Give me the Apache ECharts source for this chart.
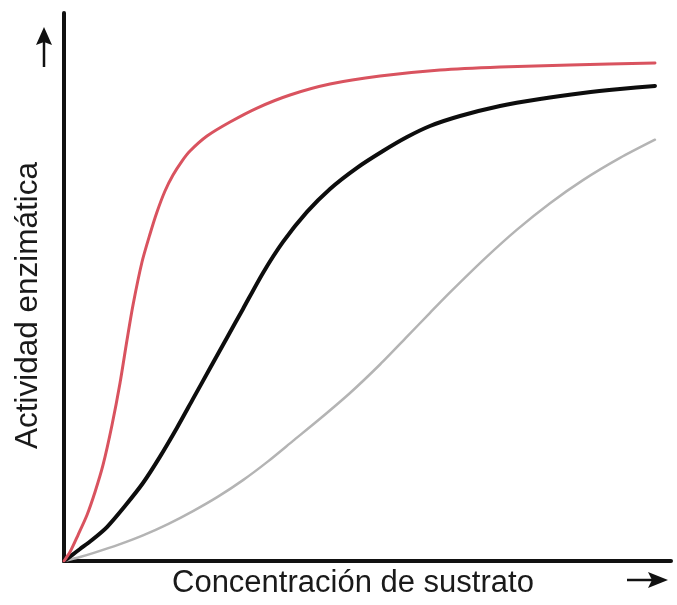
<!DOCTYPE html>
<html>
<head>
<meta charset="utf-8">
<script src="https://cdn.jsdelivr.net/npm/echarts@6/dist/echarts.min.js"></script>
<style>
html,body{margin:0;padding:0;background:#fff;}
#chart{width:677px;height:605px;}
</style>
</head>
<body>
<div id="chart"></div>
<script>
// Values (x: substrate concentration 0..100, y: activity 0..100)
const redCurve = [[0,0],[0.99,1.64],[2.31,4.74],[3.79,8.39],[5.11,12.59],[6.43,17.52],[7.91,24.82],[9.23,32.48],[10.38,40.33],[11.37,46.72],[12.85,54.56],[14.17,59.67],[15.32,63.69],[16.64,67.52],[17.96,70.44],[19.44,72.99],[20.76,74.82],[23.56,77.55],[27.35,80.11],[31.80,82.66],[37.23,85.04],[43.82,87.04],[52.06,88.50],[61.94,89.60],[71.83,90.15],[83.36,90.51],[97.36,90.88]];
const blackCurve = [[0,0],[1.32,1.09],[2.64,2.19],[4.61,3.83],[7.08,6.20],[10.05,10.04],[13.01,14.23],[15.82,19.05],[18.62,24.32],[21.25,29.58],[24.05,35.16],[26.85,40.75],[29.49,46.00],[32.78,52.57],[36.08,58.23],[40.03,63.70],[43.82,67.90],[48.27,71.75],[52.55,74.82],[56.51,77.37],[60.30,79.38],[65.24,81.20],[71.83,83.03],[78.42,84.31],[85.50,85.40],[91.60,86.13],[97.36,86.68]];
const grayCurve = [[0,0],[2.64,0.73],[4.78,1.44],[8.90,2.94],[13.01,4.67],[17.13,6.73],[21.25,9.11],[25.37,11.75],[29.49,14.76],[33.61,18.18],[37.73,21.92],[42.17,25.95],[47.12,30.66],[52.06,35.86],[56.51,40.93],[60.30,45.29],[63.59,49.01],[69.36,55.22],[74.63,60.47],[80.07,65.29],[85.50,69.51],[91.60,73.56],[97.36,76.88]];
const xTitle = 'Concentración de sustrato';
const yTitle = 'Actividad enzimática';

const chart = echarts.init(document.getElementById('chart'), null, {renderer:'canvas'});
const axisCommon = {
  type:'value', min:0, max:100,
  axisLine:{show:true, lineStyle:{color:'#111', width:4}},
  axisTick:{show:false}, axisLabel:{show:false}, splitLine:{show:false}
};
function line(data, color, width){
  return {type:'line', data:data, showSymbol:false, symbol:'none', smooth:0.25,
    lineStyle:{color:color, width:width, cap:'round', join:'round'}, z:3};
}
chart.setOption({
  animation:false,
  backgroundColor:'#ffffff',
  grid:{left:64, right:6, top:13, bottom:44},
  xAxis:Object.assign({}, axisCommon),
  yAxis:Object.assign({}, axisCommon),
  series:[
    line(grayCurve, '#b4b4b4', 2.5),
    line(blackCurve, '#0d0d0d', 4),
    line(redCurve, '#d9535f', 3)
  ],
  graphic:[
    {type:'text', left:172, top:568, style:{text:xTitle, fill:'#1a1a1a', font:'31px "Liberation Sans", Arial, sans-serif'}},
    {type:'text', rotation:Math.PI/2, x:12, y:449, style:{text:yTitle, fill:'#1a1a1a', font:'31.5px "Liberation Sans", Arial, sans-serif', textVerticalAlign:'top'}},
    {type:'line', shape:{x1:44, y1:67, x2:44, y2:40}, style:{stroke:'#111', lineWidth:2.5}},
    {type:'polygon', shape:{points:[[44,27],[36,45],[44,42],[52,45]]}, style:{fill:'#111'}},
    {type:'line', shape:{x1:627, y1:580, x2:655, y2:580}, style:{stroke:'#111', lineWidth:2.5}},
    {type:'polygon', shape:{points:[[668,580],[648,572],[652,580],[648,588]]}, style:{fill:'#111'}}
  ]
});
</script>
</body>
</html>
